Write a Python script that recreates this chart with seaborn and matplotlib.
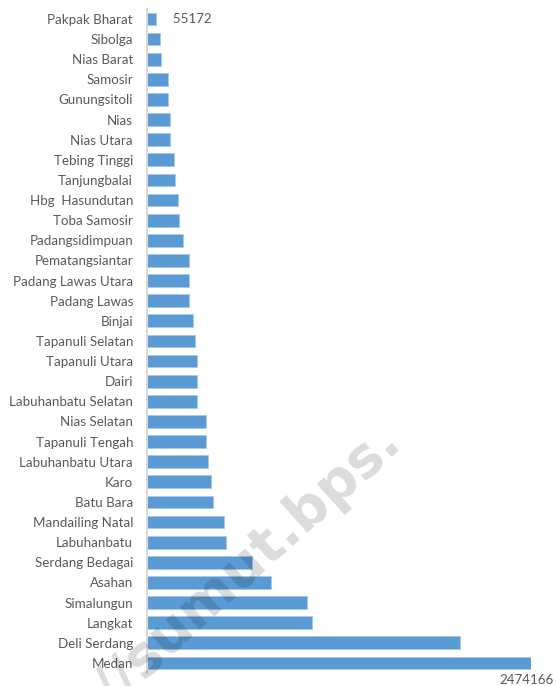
import seaborn as sns
import pandas as pd
import matplotlib.pyplot as plt

sns.set_style("white")
plt.rcParams['font.family'] = ['Lato', 'DejaVu Sans']

regions = ["Pakpak Bharat", "Sibolga", "Nias Barat", "Samosir", "Gunungsitoli", "Nias",
           "Nias Utara", "Tebing Tinggi", "Tanjungbalai", "Hbg  Hasundutan", "Toba Samosir",
           "Padangsidimpuan", "Pematangsiantar", "Padang Lawas Utara", "Padang Lawas", "Binjai",
           "Tapanuli Selatan", "Tapanuli Utara", "Dairi", "Labuhanbatu Selatan", "Nias Selatan",
           "Tapanuli Tengah", "Labuhanbatu Utara", "Karo", "Batu Bara", "Mandailing Natal",
           "Labuhanbatu", "Serdang Bedagai", "Asahan", "Simalungun", "Langkat", "Deli Serdang",
           "Medan"]
population = [55172, 86000, 90000, 135000, 137000, 148000,
              150000, 172000, 179000, 198000, 209000,
              231000, 269000, 269000, 268000, 297000,
              308000, 319000, 320000, 325000, 377000,
              381000, 396000, 415000, 424000, 493000,
              508000, 678000, 799000, 1031000, 1064000, 2017000,
              2474166]

df = pd.DataFrame({"region": regions, "population": population})

fig = plt.figure(figsize=(5.56, 6.86), dpi=100)
ax = fig.add_axes([0.2644, 0.019, 0.955 - 0.2644, 0.968])

sns.barplot(data=df, y="region", x="population", orient="h", color="#5B9BD5",
            saturation=1, width=0.63, edgecolor="#A9C8EA", linewidth=0.6, ax=ax)

ax.set_xlim(0, 2474166)
ax.set_ylim(len(regions) - 0.5, -0.5)
ax.set_xlabel("")
ax.set_ylabel("")
ax.set_xticks([])
ax.tick_params(axis="y", length=0, pad=10, labelsize=9.6, labelcolor="#595959")
for side in ["top", "right", "bottom"]:
    ax.spines[side].set_visible(False)
ax.spines["left"].set_color("#D9D9D9")
ax.spines["left"].set_linewidth(1.5)

# data labels for first and last bar
ax.text(population[0], 0, "     " + str(population[0]), va="center", ha="left",
        fontsize=9.6, color="#595959")
ax.annotate(str(population[-1]), xy=(population[-1], len(regions) - 1),
            xytext=(-3, -8), textcoords="offset points", ha="center", va="top",
            fontsize=9.6, color="#595959", annotation_clip=False)

# watermark
fig.text(0.447, 0.175, "//sumut.bps.", rotation=42, ha="center", va="center",
         fontsize=40, fontweight="bold", color="black", alpha=0.14,
         family="DejaVu Sans")

plt.savefig("out.png", dpi=100)
